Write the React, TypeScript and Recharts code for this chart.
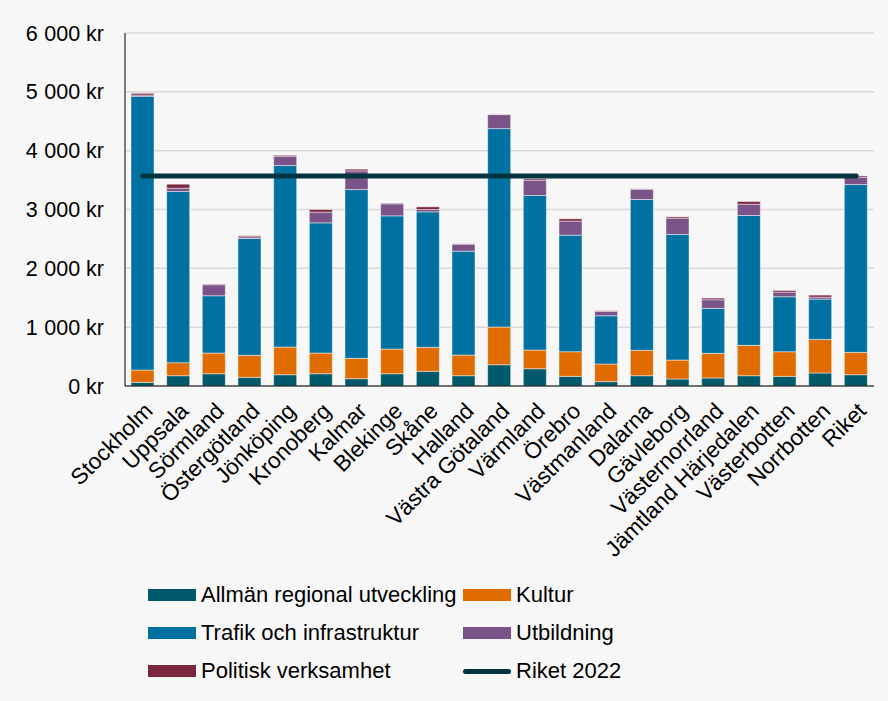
import React from 'react';
import { ComposedChart, Bar, Line, XAxis, YAxis, CartesianGrid } from 'recharts';

const categories = [
   'Stockholm', 'Uppsala', 'Sörmland', 'Östergötland', 'Jönköping', 'Kronoberg', 'Kalmar',
   'Blekinge', 'Skåne', 'Halland', 'Västra Götaland', 'Värmland', 'Örebro', 'Västmanland',
   'Dalarna', 'Gävleborg', 'Västernorrland', 'Jämtland Härjedalen', 'Västerbotten', 'Norrbotten', 'Riket',
];

const allmanRegional = [62, 175, 209, 147, 192, 209, 125, 209, 249, 175, 362, 294, 164, 74, 175, 119, 136, 175, 164, 221, 192];
const kultur = [210, 221, 351, 374, 470, 351, 345, 419, 408, 351, 640, 317, 419, 300, 431, 322, 419, 516, 419, 571, 380];
const trafik = [4652, 2909, 974, 1986, 3085, 2213, 2869, 2264, 2303, 1766, 3373, 2627, 1981, 820, 2564, 2134, 764, 2207, 934, 685, 2852];
const utbildning = [23, 57, 187, 29, 158, 182, 317, 204, 40, 119, 238, 260, 238, 74, 175, 278, 147, 192, 79, 34, 125];
const politisk = [28, 68, 11, 17, 17, 45, 29, 11, 45, 6, 6, 23, 39, 11, 6, 22, 28, 46, 28, 34, 22];
const riket2022 = 3570;

const yTicks = [0, 1000, 2000, 3000, 4000, 5000, 6000];

const data = categories.map((name, i) => ({
   name,
   allman: allmanRegional[i],
   kultur: kultur[i],
   trafik: trafik[i],
   utbildning: utbildning[i],
   politisk: politisk[i],
   riket: riket2022,
}));

const colors = {
   allman: '#005a6c',
   kultur: '#e06c00',
   trafik: '#0071a1',
   utbildning: '#7a5489',
   politisk: '#7c2740',
   riket: '#00343f',
};

const legendItems = [
   { label: 'Allmän regional utveckling', color: colors.allman, line: false },
   { label: 'Kultur', color: colors.kultur, line: false },
   { label: 'Trafik och infrastruktur', color: colors.trafik, line: false },
   { label: 'Utbildning', color: colors.utbildning, line: false },
   { label: 'Politisk verksamhet', color: colors.politisk, line: false },
   { label: 'Riket 2022', color: colors.riket, line: true },
];

const font = '"Liberation Sans", Arial, sans-serif';

// y-etikett: tusentalsavgränsaren är lite bredare än ett vanligt mellanslag
const YTick = (props: any) => {
   const { x, y, payload } = props;
   const v: number = payload.value;
   const thousands = Math.floor(v / 1000);
   return (
      <text x={x} y={y} dy="0.35em" textAnchor="end" fill="#000" fontSize={21.5} fontFamily={font}>
         {v >= 1000 ? (
            <>
               <tspan>{`${thousands} `}</tspan>
               <tspan dx={0.5}>{`${String(v % 1000).padStart(3, '0')} kr`}</tspan>
            </>
         ) : (
            `${v} kr`
         )}
      </text>
   );
};

export default function App() {
   const barStroke = 'rgba(255,255,255,0.45)';
   return (
      <div style={{ position: 'absolute', left: 0, top: 0, width: 888, height: 701, background: '#f7f7f7', fontFamily: font }}>
         <ComposedChart
            width={888}
            height={580}
            data={data}
            margin={{ top: 33, right: 14, left: 0, bottom: 0 }}
            barSize={23}
         >
            <CartesianGrid vertical={false} stroke="#d9d9d9" strokeWidth={1.5} />
            <XAxis
               dataKey="name"
               interval={0}
               height={194}
               angle={-45}
               textAnchor="end"
               tickLine={false}
               axisLine={{ stroke: '#000', strokeWidth: 1 }}
               tick={{ fill: '#000', fontSize: 22.5, fontFamily: font }}
               tickMargin={9}
            />
            <YAxis
               width={125}
               domain={[0, 6000]}
               ticks={yTicks}
               tick={<YTick />}
               tickLine={false}
               tickSize={0}
               tickMargin={21}
               axisLine={{ stroke: '#000', strokeWidth: 1 }}
            />
            <Bar dataKey="allman" stackId="a" fill={colors.allman} stroke={barStroke} isAnimationActive={false} />
            <Bar dataKey="kultur" stackId="a" fill={colors.kultur} stroke={barStroke} isAnimationActive={false} />
            <Bar dataKey="trafik" stackId="a" fill={colors.trafik} stroke={barStroke} isAnimationActive={false} />
            <Bar dataKey="utbildning" stackId="a" fill={colors.utbildning} stroke={barStroke} isAnimationActive={false} />
            <Bar dataKey="politisk" stackId="a" fill={colors.politisk} stroke={barStroke} isAnimationActive={false} />
            <Line
               dataKey="riket"
               type="linear"
               stroke={colors.riket}
               strokeWidth={5}
               strokeLinecap="round"
               dot={false}
               activeDot={false}
               isAnimationActive={false}
            />
         </ComposedChart>
         <div
            style={{
               position: 'absolute',
               left: 148,
               top: 582,
               display: 'grid',
               gridTemplateColumns: '315px 260px',
               rowGap: 12,
               fontSize: 22,
               color: '#000',
            }}
         >
            {legendItems.map((item) => (
               <div key={item.label} style={{ display: 'flex', alignItems: 'center', height: 26 }}>
                  {item.line ? (
                     <span style={{ width: 48, height: 5, borderRadius: 3, background: item.color, marginRight: 5 }} />
                  ) : (
                     <span style={{ width: 48, height: 12, background: item.color, marginRight: 5 }} />
                  )}
                  <span>{item.label}</span>
               </div>
            ))}
         </div>
      </div>
   );
}
